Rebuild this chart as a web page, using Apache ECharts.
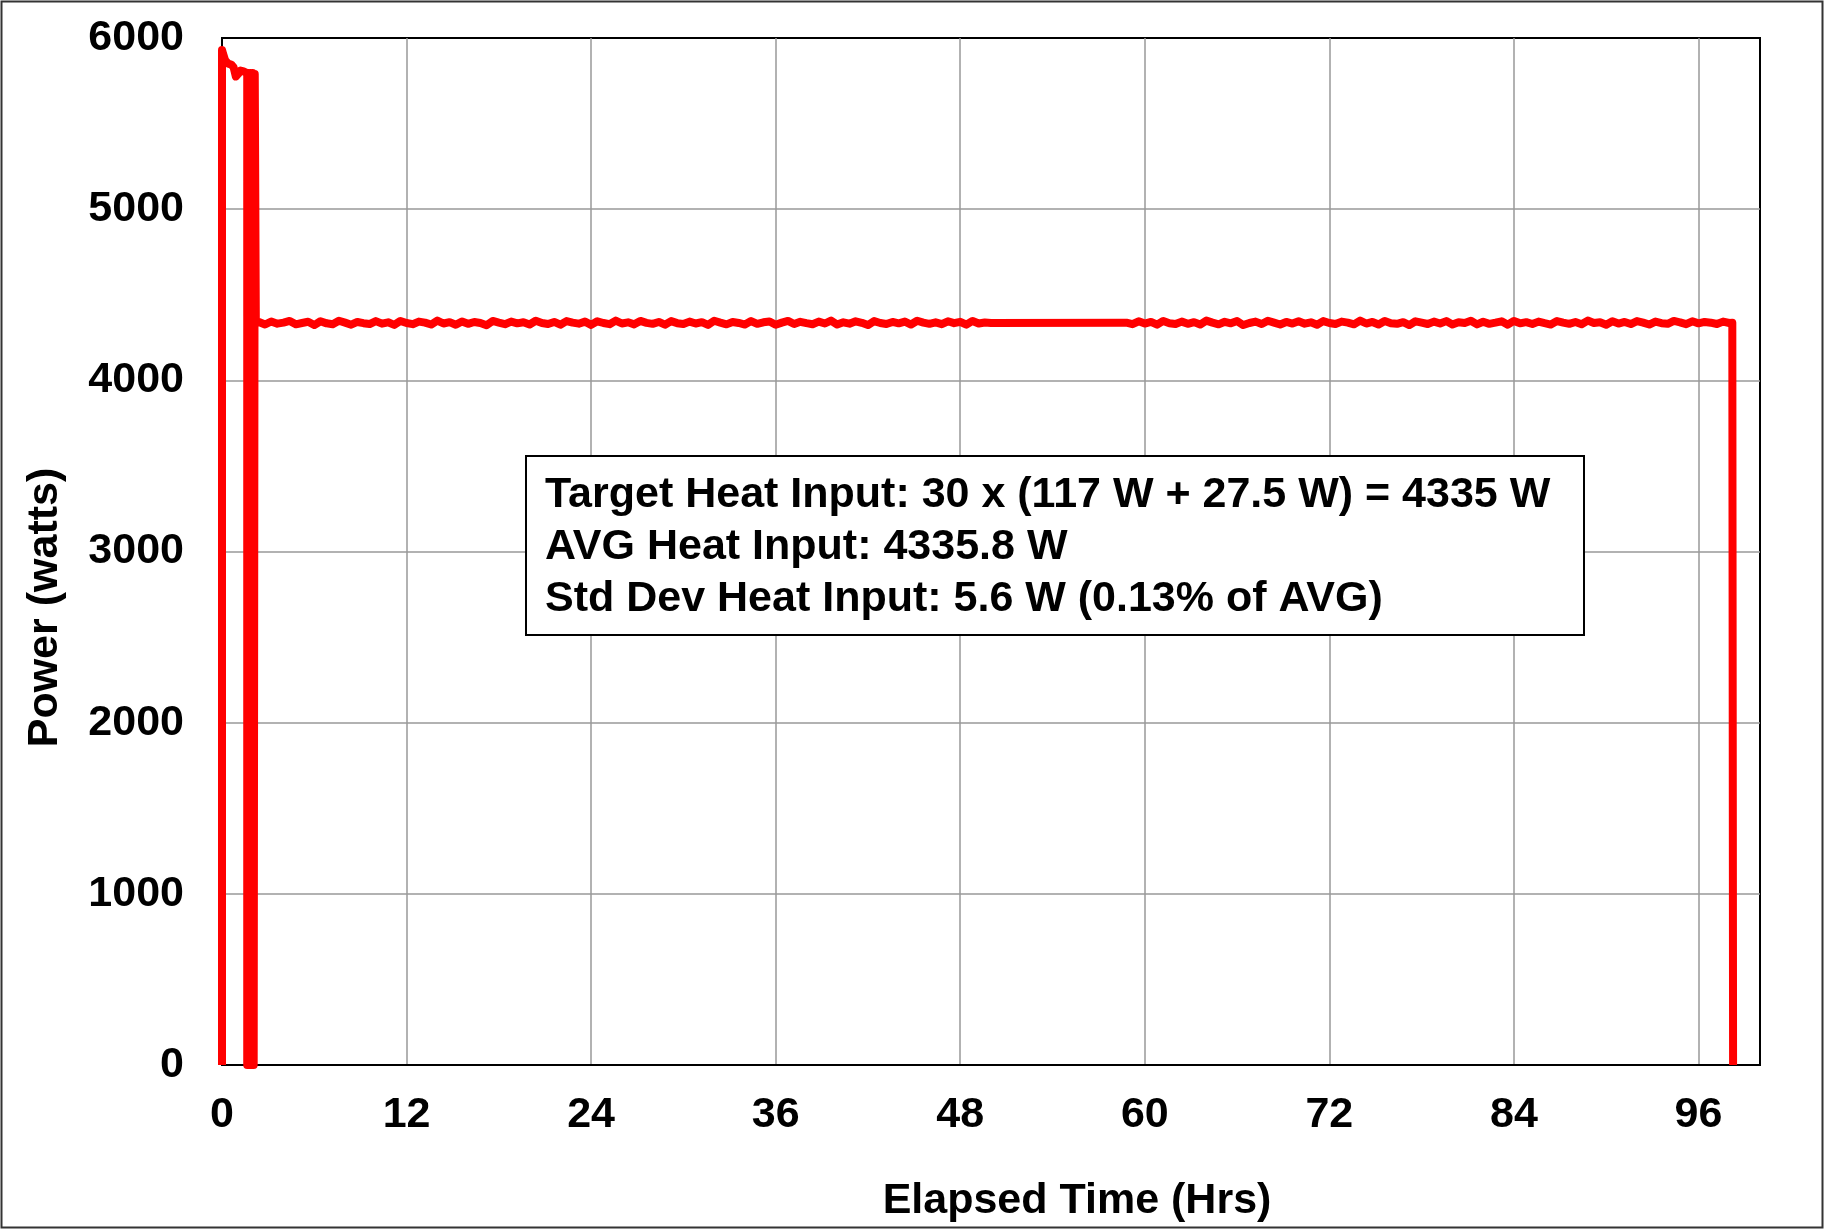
<!DOCTYPE html>
<html>
<head>
<meta charset="utf-8">
<script src="https://cdn.jsdelivr.net/npm/echarts@6/dist/echarts.min.js"></script>
<style>
  html, body { margin: 0; padding: 0; background: #fff; }
  #chart { width: 1825px; height: 1230px; }
</style>
</head>
<body>
<div id="chart"></div>
<script>
// Heater power log: start-up transient with on/off cycling, steady run,
// gap in logging, shutdown.
const startHours = [0, 0, 0.05, 0.2, 0.4, 0.6, 0.75, 0.9, 1.05, 1.2, 1.4,
  1.64, 1.64, 1.71, 1.71, 1.78, 1.78, 1.85, 1.85, 1.92, 1.92, 1.99, 1.99, 2.06, 2.06, 2.13, 2.13, 2.2, 2.2];
const startWatts = [0, 5930, 5915, 5870, 5850, 5845, 5830, 5775, 5790, 5810, 5805,
  5795, 0, 0, 5795, 5795, 0, 0, 5795, 5795, 0, 0, 5795, 5795, 0, 0, 5790, 5790, 4335];

// Steady-state readings, logged every 0.4 h
const logStep = 0.4;
const runAStart = 2.4;
const runAWatts = [
  4341, 4326, 4344, 4331, 4337, 4347, 4327, 4335, 4342, 4323,
  4345, 4333, 4328, 4348, 4337, 4325, 4341, 4334, 4329, 4346,
  4331, 4339, 4324, 4347, 4335, 4328, 4343, 4337, 4326, 4349,
  4332, 4340, 4325, 4344, 4330, 4341, 4335, 4322, 4347, 4337,
  4328, 4343, 4333, 4339, 4326, 4348, 4335, 4329, 4341, 4325,
  4346, 4337, 4331, 4343, 4324, 4345, 4335, 4328, 4349, 4332,
  4339, 4327, 4347, 4336, 4330, 4341, 4325, 4346, 4334, 4329,
  4343, 4332, 4340, 4324, 4348, 4337, 4327, 4341, 4335, 4326,
  4346, 4330, 4339, 4344, 4325, 4337, 4347, 4329, 4342, 4334,
  4328, 4343, 4332, 4349, 4326, 4339, 4331, 4345, 4336, 4323,
  4346, 4335, 4329, 4341, 4333, 4343, 4326, 4348, 4337, 4330,
  4339, 4328, 4345, 4334, 4342, 4325, 4347, 4332, 4338, 4335
];
const runBStart = 58.8;
const runBWatts = [
  4337, 4328, 4345, 4332, 4341, 4325, 4347, 4334, 4329, 4343,
  4330, 4340, 4326, 4349, 4337, 4327, 4342, 4333, 4346, 4323,
  4335, 4343, 4329, 4348, 4337, 4326, 4341, 4332, 4345, 4331,
  4339, 4325, 4346, 4335, 4329, 4343, 4337, 4327, 4349, 4332,
  4341, 4326, 4347, 4334, 4330, 4340, 4323, 4345, 4337, 4329,
  4343, 4332, 4346, 4326, 4339, 4335, 4348, 4327, 4342, 4330,
  4337, 4345, 4325, 4347, 4333, 4340, 4329, 4343, 4334, 4326,
  4346, 4337, 4330, 4341, 4328, 4349, 4335, 4339, 4325, 4345,
  4332, 4341, 4329, 4346, 4337, 4326, 4343, 4334, 4330, 4347,
  4339, 4328, 4345, 4333, 4341, 4337, 4329, 4343, 4335
];
const endHours = [98.2, 98.25];
const endWatts = [4336, 0];

const xTicks = [0, 12, 24, 36, 48, 60, 72, 84, 96];
const yTicks = [0, 1000, 2000, 3000, 4000, 5000, 6000];

const noteLines = [
  'Target Heat Input: 30 x (117 W + 27.5 W) = 4335 W',
  'AVG Heat Input: 4335.8 W',
  'Std Dev Heat Input: 5.6 W (0.13% of AVG)'
];

// Assemble [hours, watts] pairs
const points = [];
startHours.forEach((h, i) => points.push([h, startWatts[i]]));
runAWatts.forEach((w, i) => points.push([+(runAStart + i * logStep).toFixed(2), w]));
runBWatts.forEach((w, i) => points.push([+(runBStart + i * logStep).toFixed(2), w]));
endHours.forEach((h, i) => points.push([h, endWatts[i]]));

const FONT = '"Liberation Sans", Arial, sans-serif';
const labelStyle = { fontFamily: FONT, fontWeight: 'bold', fontSize: 43, color: '#000' };

const chart = echarts.init(document.getElementById('chart'), null, { renderer: 'canvas' });
chart.setOption({
  animation: false,
  backgroundColor: '#fff',
  grid: {
    left: 222, top: 38, right: 65, bottom: 165,
    show: true, borderColor: '#000', borderWidth: 2, backgroundColor: 'transparent'
  },
  xAxis: {
    type: 'value',
    min: 0, max: 100, interval: xTicks[1] - xTicks[0],
    name: 'Elapsed Time (Hrs)',
    nameLocation: 'middle',
    nameGap: 115,
    nameTextStyle: Object.assign({}, labelStyle, { padding: [0, 0, 0, 172] }),
    axisLine: { show: true, lineStyle: { color: '#000', width: 2 } },
    axisTick: { show: false },
    axisLabel: Object.assign({}, labelStyle, {
      margin: 29, showMaxLabel: false,
      formatter: v => (xTicks.indexOf(v) >= 0 ? String(v) : '')
    }),
    splitLine: { show: true, showMaxLine: false, showMinLine: false, lineStyle: { color: '#999', width: 1.5 } }
  },
  yAxis: {
    type: 'value',
    min: 0, max: 6000, interval: yTicks[1] - yTicks[0],
    name: 'Power (watts)',
    nameLocation: 'middle',
    nameGap: 155,
    nameTextStyle: Object.assign({}, labelStyle, { padding: [0, 112, 0, 0] }),
    axisLine: { show: true, lineStyle: { color: '#000', width: 2 } },
    axisTick: { show: false },
    axisLabel: Object.assign({}, labelStyle, { margin: 38, formatter: v => String(v) }),
    splitLine: { show: true, showMaxLine: false, showMinLine: false, lineStyle: { color: '#999', width: 1.5 } }
  },
  series: [{
    type: 'line',
    data: points,
    showSymbol: false,
    symbol: 'none',
    clip: true,
    lineStyle: { color: '#ff0000', width: 8, join: 'round', cap: 'butt' },
    z: 5
  }],
  graphic: [
    {
      type: 'rect',
      shape: { x: 1.5, y: 1.5, width: 1821, height: 1226 },
      style: { fill: 'none', stroke: '#333', lineWidth: 2 },
      z: 100
    },
    {
      type: 'rect',
      left: 525, top: 455,
      z: 100,
      shape: { x: 0, y: 0, width: 1058, height: 179 },
      style: { fill: '#fff', stroke: '#000', lineWidth: 2 }
    },
    {
      type: 'text',
      left: 545, top: 469,
      z: 101,
      style: {
        text: noteLines.join('\n'),
        font: 'bold 43px ' + FONT,
        fill: '#000',
        lineHeight: 52,
        verticalAlign: 'top',
        align: 'left'
      }
    }
  ]
});
</script>
</body>
</html>
